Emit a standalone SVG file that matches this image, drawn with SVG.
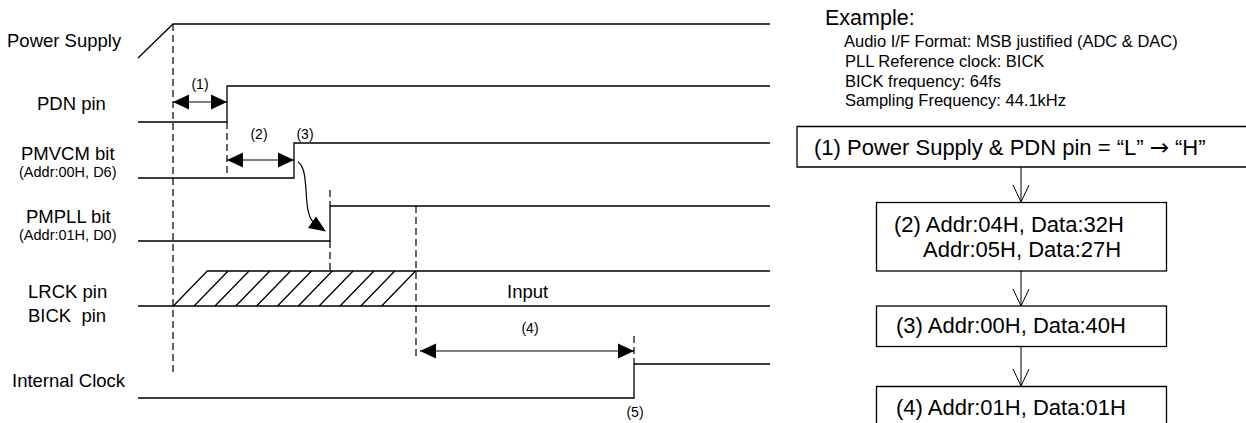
<svg xmlns="http://www.w3.org/2000/svg" width="1246" height="423" viewBox="0 0 1246 423">
<style>
text{font-family:"Liberation Sans",Arial,sans-serif;fill:#000}
.lbl{font-size:18.5px}
.sub{font-size:14.5px}
.num{font-size:14px;text-anchor:middle}
.ex{font-size:16.5px}
.box{font-size:22px;white-space:pre}
.arr{font-family:"DejaVu Sans",sans-serif;font-size:23px}
.sig{fill:none;stroke:#000;stroke-width:1.3}
.dash{fill:none;stroke:#000;stroke-width:1.2;stroke-dasharray:7,4}
.frame{fill:none;stroke:#000;stroke-width:1.3}
.dim{fill:none;stroke:#000;stroke-width:1.2;marker-start:url(#fa);marker-end:url(#fa)}
.flow{fill:none;stroke:#000;stroke-width:1;marker-end:url(#va)}
</style>
<defs>
<marker id="fa" viewBox="0 -8 16 16" refX="16" refY="0" markerWidth="16" markerHeight="16" markerUnits="userSpaceOnUse" orient="auto-start-reverse">
<path d="M0,-7.5 L16,0 L0,7.5 Z" fill="#000"/>
</marker>
<marker id="va" viewBox="-1 -9 19 18" refX="17" refY="0" markerWidth="19" markerHeight="18" markerUnits="userSpaceOnUse" orient="auto">
<path d="M0,-8 L17,0 L0,8" fill="none" stroke="#000" stroke-width="1"/>
</marker>
</defs>

<g id="signal-labels">
<text class="lbl" x="7" y="46.5">Power Supply</text>
<text class="lbl" x="37" y="110">PDN pin</text>
<text class="lbl" x="21" y="160">PMVCM bit</text>
<text class="sub" x="19" y="177">(Addr:00H, D6)</text>
<text class="lbl" x="26" y="223">PMPLL bit</text>
<text class="sub" x="19" y="240">(Addr:01H, D0)</text>
<text class="lbl" x="28" y="298">LRCK pin</text>
<text class="lbl" x="28" y="321.5" style="white-space:pre">BICK  pin</text>
<text class="lbl" x="12" y="386.5">Internal Clock</text>
</g>

<g id="waveforms">
<path class="sig" d="M138,58 L173,24 H770"/>
<path class="sig" d="M138,122 H227 V86 H770"/>
<path class="sig" d="M138,178 H294 V143 H770"/>
<path class="sig" d="M138,241 H330 V206 H770"/>
<path class="sig" d="M138,306 H770 M207,271 H770"/>
<path class="sig" d="M173.3,306 L207.3,271 M194.1,306 L228.1,271 M215,306 L249,271 M235.8,306 L269.8,271 M256.6,306 L290.6,271 M277.5,306 L311.5,271 M298.3,306 L332.3,271 M319.1,306 L353.1,271 M340,306 L374,271 M360.8,306 L394.8,271 M381.6,306 L415.6,271"/>
<path class="sig" d="M138,398 H634 V364 H770"/>
<text class="lbl" x="507" y="298">Input</text>
</g>

<g id="connectors">
<path class="dash" d="M173,24 V372"/>
<path class="dash" d="M227,122 V175"/>
<path class="dash" d="M330,190 V206 M330,241 V271"/>
<path class="dash" d="M416,206 V357"/>
<path class="dash" d="M634,336 V364"/>
<path class="dim" d="M173,102 H227"/>
<path class="dim" d="M227,160 H294"/>
<path class="dim" d="M420,351 H634"/>
<path d="M298,162 C304,166 305,176 306,190 C307,207 308,216 313,222" fill="none" stroke="#000" stroke-width="1.2"/>
<path d="M326,231.5 L316,216.5 L308,228 Z" fill="#000"/>
<path class="flow" d="M1021,167 V202"/>
<path class="flow" d="M1021,271 V306"/>
<path class="flow" d="M1021,347 V386"/>
</g>

<g id="timing-labels">
<text class="num" x="200" y="89">(1)</text>
<text class="num" x="259" y="139">(2)</text>
<text class="num" x="305" y="139">(3)</text>
<text class="num" x="530" y="333">(4)</text>
<text class="num" x="635" y="417">(5)</text>
</g>

<g id="example">
<text x="825" y="25" style="font-size:21.5px">Example:</text>
<text class="ex" x="844" y="46.5">Audio I/F Format: MSB justified (ADC &amp; DAC)</text>
<text class="ex" x="845" y="66.5">PLL Reference clock: BICK</text>
<text class="ex" x="845" y="86.5">BICK frequency: 64fs</text>
<text class="ex" x="845" y="106">Sampling Frequency: 44.1kHz</text>
</g>

<g id="step1">
<path class="frame" d="M1250,126.5 H797 V167 H1250"/>
<text class="box" x="814" y="155">(1) Power Supply &amp; PDN pin = “L” <tspan class="arr">→</tspan> “H”</text>
</g>
<g id="step2">
<rect class="frame" x="876.5" y="202.5" width="290" height="68.5"/>
<text class="box" x="894" y="232">(2) Addr:04H, Data:32H</text>
<text class="box" x="923" y="257">Addr:05H, Data:27H</text>
</g>
<g id="step3">
<rect class="frame" x="876.5" y="306" width="290" height="40.5"/>
<text class="box" x="896" y="333">(3) Addr:00H, Data:40H</text>
</g>
<g id="step4">
<path class="frame" d="M876.5,430 V386.5 H1166.5 V430"/>
<text class="box" x="896" y="415">(4) Addr:01H, Data:01H</text>
</g>
</svg>
